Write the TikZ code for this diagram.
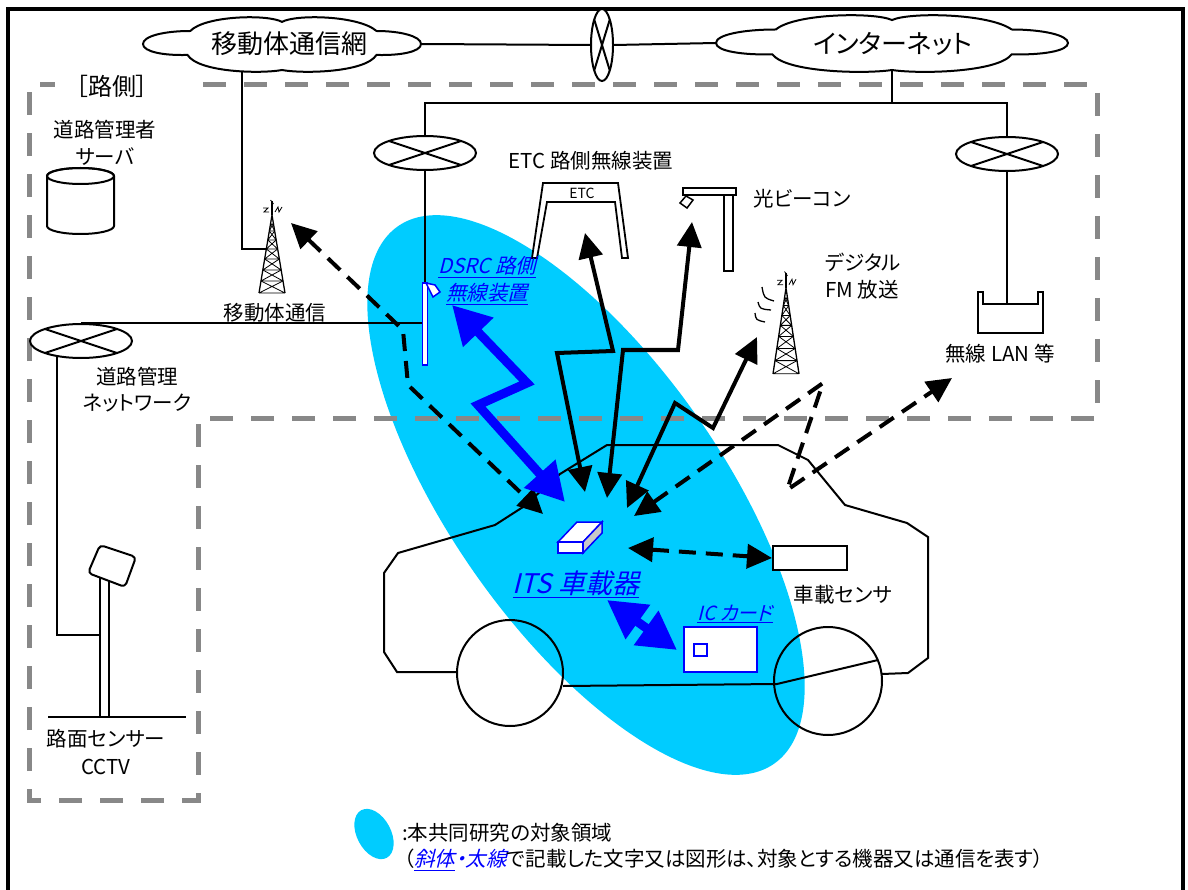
\documentclass[tikz,border=0pt]{standalone}
\usepackage{fontspec}
\setmainfont{Noto Sans CJK JP}[RawFeature={+palt}]
\newfontfamily\slantfont{Noto Sans CJK JP}[FakeSlant=0.25,RawFeature={+palt}]
\usetikzlibrary{arrows.meta,shapes.geometric}

\definecolor{zone}{HTML}{00CCFF}
\definecolor{rim}{HTML}{888888}
\definecolor{itsblue}{HTML}{0000FF}
\definecolor{boxside}{HTML}{C8C8C8}

\tikzset{
  wire/.style={line width=2pt},
  router/.style={ellipse, draw, line width=2pt, fill=white, inner sep=0pt,
    minimum width=102pt, minimum height=34pt,
    path picture={\draw[line width=2pt]
      (path picture bounding box.north west) -- (path picture bounding box.south east)
      (path picture bounding box.south west) -- (path picture bounding box.north east);}},
  zonedash/.style={line width=5pt, draw=rim, dash pattern=on 23pt off 18pt},
  lbl/.style={inner sep=0pt, font=\fontsize{20.5pt}{24pt}\selectfont},
  bluelbl/.style={inner sep=0pt, text=itsblue, font=\fontsize{20.5pt}{24pt}\slantfont},
  bk/.tip={Triangle[length=25pt,width=24pt]},
  bl/.tip={Triangle[length=38pt,width=40pt]},
  solidlink/.style={line width=4pt, arrows={bk-bk}},
  dashlink/.style={solidlink, dash pattern=on 17pt off 10pt},
  bluelink/.style={line width=9pt, draw=itsblue, arrows={bl-bl}},
  lattice/.pic={
    \draw[line width=1.2pt] (0,-14) -- (0,0);
    \draw[line width=0.8pt] (-9,-7) -- (-4,-7) -- (-8,-3) -- (-3,-3)
                            (3,-3) -- (6,-8) -- (7,-3) -- (10,-8)
                            (-1.5,-15) -- (1.5,-11);
    \draw[line width=1.3pt] (-13,78) -- (0,0) -- (13,78);
    \foreach \a/\b in {8/16,16/25,25/34,34/44,44/55,55/66,66/78}
      \draw[line width=0.8pt] ({-\a/6},\a) -- ({\b/6},\b) ({\a/6},\a) -- ({-\b/6},\b)
                              ({-\b/6},\b) -- ({\b/6},\b);
    \coordinate (-leg) at (-5.7,34);
  },
  cloudy/.pic={
    \draw[line width=2pt, fill=white]
      (-1,0) .. controls (-1,-0.3) and (-0.85,-0.5) .. (-0.66,-0.5)
      .. controls (-0.55,-1.1) and (-0.1,-1.15) .. (0,-0.85)
      .. controls (0.1,-1.15) and (0.55,-1.1) .. (0.68,-0.5)
      .. controls (0.85,-0.5) and (1,-0.3) .. (1,0)
      .. controls (1,0.3) and (0.85,0.45) .. (0.68,0.42)
      .. controls (0.6,1.1) and (0.15,1.15) .. (0,1)
      .. controls (-0.15,1.15) and (-0.6,1.1) .. (-0.68,0.42)
      .. controls (-0.85,0.45) and (-1,0.3) .. (-1,0) -- cycle;
  }
}

\begin{document}
\begin{tikzpicture}[x=1pt,y=-1pt]
\useasboundingbox (0,0) rectangle (1188,890);
\clip (0,0) rectangle (1188,890);
\fill[white] (0,0) rectangle (1188,890);

% study area
\begin{scope}[shift={(586,495)}, rotate=-55]
  \fill[zone] (0,0) ellipse[x radius=328pt, y radius=136pt];
\end{scope}

% roadside boundary
\draw[zonedash] (203,85) -- (1097,85) -- (1097,418) -- (198,418) -- (198,800)
  -- (29,800) -- (29,85) -- (55,85);
\node[inner sep=0pt, font=\fontsize{24pt}{28pt}\selectfont] (side) at (112,86) {［路側］};

% outer frame
\draw[line width=4pt] (8,9) rectangle (1183,900);

% networks and routers
\node[ellipse, minimum width=278pt, minimum height=52pt, inner sep=0pt] (net1) at (282,44) {};
\node[ellipse, minimum width=352pt, minimum height=54pt, inner sep=0pt] (net2) at (892,43) {};
\node[router, minimum width=22pt, minimum height=72pt] (gw) at (602,45) {};
\node[router] (rL) at (425,153) {};
\node[router] (rR) at (1007,154) {};
\node[router] (rN) at (81,341) {};
\coordinate (j1) at (892,103);

% roadside devices
\node[draw=itsblue, line width=1.5pt, fill=white, minimum width=5pt, minimum height=82pt, inner sep=0pt] (dsrc) at (425,324) {};
\draw[draw=itsblue, line width=1.5pt, fill=white] (426,283) -- (435,285) -- (440,292) -- (433,297) -- (429,289) -- cycle;

\pic (mob) at (272,215) {lattice};
\pic[yscale=1.1] (fm) at (786,288) {lattice};
\draw[line width=1.3pt] (762,287) .. controls (764,298) .. (774,301)
  (758,302) .. controls (760,309) .. (771,310)
  (755,313) .. controls (756,320) .. (765,322);

\draw[wire, fill=white] (978,292) -- (978,333) -- (1043,333) -- (1043,292) -- (1038,292)
  -- (1038,304) -- (983,304) -- (983,292) -- cycle;
\coordinate (lanIn) at (1007,304);

% ETC gantry
\draw[line width=1.8pt, fill=white] (532,258) -- (543,183) -- (618,183) -- (628,258) -- (622,258)
  -- (615,202) -- (547,202) -- (537,258) -- cycle;
\node[inner sep=0pt, font=\fontsize{14pt}{16pt}\selectfont] (etcplate) at (582,193) {ETC};

% optical beacon
\draw[line width=1.8pt, fill=white] (683,188) rectangle (736,195);
\draw[line width=1.8pt, fill=white] (724,195) rectangle (733,271);
\draw[line width=1.5pt, fill=white] (680,203) -- (686,196) -- (693,200) -- (687,208) -- cycle;

% server
\draw[wire, fill=white] (47,176) -- (47,226) arc[start angle=180, end angle=360, x radius=33.5pt, y radius=8pt]
  -- (114,176) arc[start angle=0, end angle=180, x radius=33.5pt, y radius=8pt] -- cycle;
\draw[wire] (80.5,176) ellipse[x radius=33.5pt, y radius=8pt];

% road camera
\node[draw, line width=1.5pt, fill=white, minimum width=9pt, minimum height=164pt, inner sep=0pt] (pole) at (104.5,635) {};
\draw[wire, fill=white, rounded corners=4pt] (100,545) -- (136,557) -- (125,587) -- (88,573) -- cycle;
\draw[wire] (48,717) -- (186,717);

% wiring
\draw[wire] (net1.east) -- (gw.west);
\draw[wire] (gw.east) -- (net2.west);
\draw[wire] (net2.south) -- (j1);
\draw[wire] (rL.north) |- (j1) -| (rR.north);
\draw[wire] (rL.south) -- (dsrc.north);
\draw[wire] (rR.south) -- (lanIn);
\draw[wire] (rN.north) -- (rN.north -| dsrc.west);
\draw[wire] (rN.213.5) |- (pole.west);
\draw[wire] (net1.212.7) |- (mob-leg);

% clouds
\pic[xscale=139, yscale=26] at (282,44) {cloudy};
\pic[xscale=176, yscale=27] at (892,43) {cloudy};
\node[inner sep=0pt, font=\fontsize{26pt}{30pt}\selectfont] (net1T) at (289,44) {移動体通信網};
\node[inner sep=0pt, font=\fontsize{26pt}{30pt}\selectfont] (net2T) at (893,44) {インターネット};

% vehicle
\draw[wire] (457,672) -- (397,672) -- (384,652) -- (384,573) -- (398,553) -- (495,525) -- (523,507)
  -- (560,474) -- (607,445) -- (778,445) -- (808,460) -- (845,505) -- (907,523) -- (928,537)
  -- (928,658) -- (908,673) -- (882,674);
\draw[wire] (563,686) -- (777,684) -- (878,660);
\draw[wire] (510,673) circle[radius=53pt];
\draw[wire] (828,681) circle[radius=54pt];

\node[draw, line width=2pt, fill=white, minimum width=74pt, minimum height=24pt, inner sep=0pt] (sens) at (810,558) {};
\node[draw=itsblue, line width=2pt, fill=white, minimum width=73pt, minimum height=45pt, inner sep=0pt] (ic) at (720.5,649.5) {};
\node[draw=itsblue, line width=1.5pt, minimum width=13pt, minimum height=12pt, inner sep=0pt] (chip) at (700.5,650) {};

% on-board unit
\draw[draw=itsblue, line width=1.5pt, fill=white] (558,542) -- (577,522) -- (602,522) -- (583,542) -- cycle;
\draw[draw=itsblue, line width=1.5pt, fill=boxside] (583,542) -- (602,522) -- (602,533) -- (583,553) -- cycle;
\node[draw=itsblue, line width=1.5pt, fill=white, minimum width=25pt, minimum height=11pt, inner sep=0pt] (its) at (570.5,547.5) {};

% communication links
\coordinate (mobTip) at (291,223);
\coordinate (carA) at (543,514);
\coordinate (etcTip) at (585,233);
\coordinate (carB) at (585,492);
\coordinate (obTip) at (692,222);
\coordinate (carC) at (607,498);
\coordinate (fmTip) at (757,337);
\coordinate (carD) at (627,508);
\coordinate (lanTip) at (952,378);
\coordinate (carE) at (634,516);
\coordinate (itsR) at (628,548);
\coordinate (dsrcTip) at (452,305);
\coordinate (carF) at (565,502);
\coordinate (itsI) at (607,600);
\coordinate (icI) at (677,650);

\draw[dashlink] (mobTip) -- (403,330) -- (408,385) -- (carA);
\draw[solidlink] (carB) -- (557,353) -- (613,351) -- (etcTip);
\draw[solidlink] (carC) -- (623,350) -- (678,350) -- (obTip);
\draw[solidlink] (carD) -- (675,403) -- (713,428) -- (fmTip);
\draw[dashlink] (carE) -- (823,383) -- (787,490) -- (lanTip);
\draw[dashlink] (itsR) -- (sens.west);
\draw[bluelink] (dsrcTip) -- (527,383) -- (478,405) -- (carF);
\draw[bluelink] (itsI) -- (icI);

% labels
\node[lbl] (srvT1) at (105,130) {道路管理者};
\node[lbl] (srvT2) at (105,157) {サーバ};
\node[lbl] (mobT) at (275,313) {移動体通信};
\node[lbl] (rnT1) at (137,377) {道路管理};
\node[lbl] (rnT2) at (137,403) {ネットワーク};
\node[lbl] (etcT) at (591,161) {ETC 路側無線装置};
\node[lbl] (obT) at (802,199) {光ビーコン};
\node[lbl, anchor=west] (fmT1) at (825,262) {デジタル};
\node[lbl, anchor=west] (fmT2) at (825,290) {FM 放送};
\node[lbl] (lanT) at (1000,354) {無線 LAN 等};
\node[lbl] (sensT) at (843,595) {車載センサ};
\node[lbl] (camT1) at (106,739) {路面センサー};
\node[lbl] (camT2) at (106,767) {CCTV};

\node[bluelbl] (dsrcT1) at (487,267) {\underline{DSRC 路側}};
\node[bluelbl] (dsrcT2) at (487,294) {\underline{無線装置}};
\node[bluelbl, font=\fontsize{27pt}{30pt}\slantfont] (itsT) at (576,584) {\underline{ITS 車載器}};
\node[bluelbl, font=\fontsize{19.5pt}{22pt}\slantfont] (icT) at (735,614) {\underline{IC カード}};

% legend
\begin{scope}[shift={(374,834)}, rotate=-62]
  \fill[zone] (0,0) ellipse[x radius=27pt, y radius=17pt];
\end{scope}
\node[lbl, anchor=west] (legend1) at (402,833) {:本共同研究の対象領域};
\node[lbl, anchor=west] (legend2) at (404,860) {（{\slantfont\color{itsblue}\underline{斜体}・太線}で記載した文字又は図形は、対象とする機器又は通信を表す）};
\end{tikzpicture}
\end{document}
